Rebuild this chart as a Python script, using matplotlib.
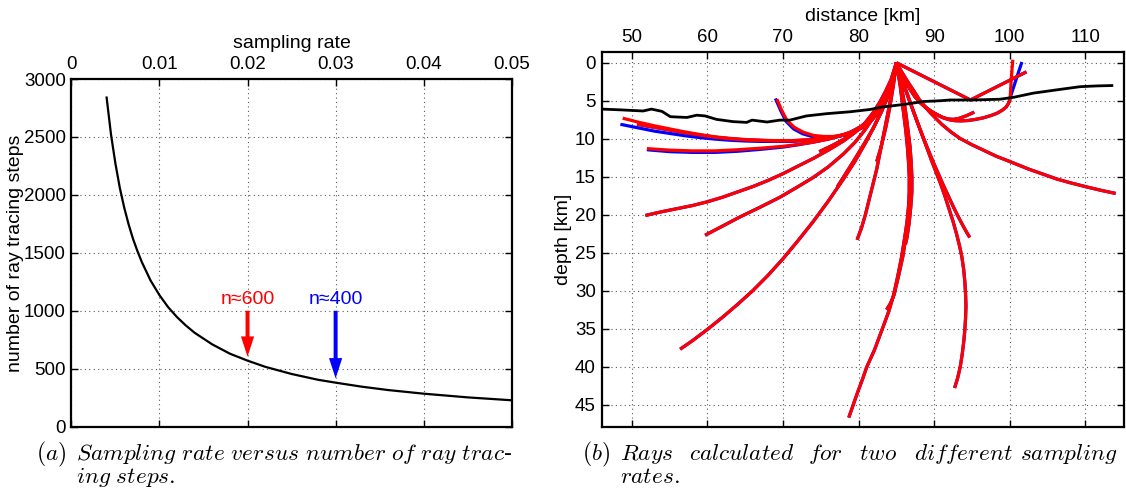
import matplotlib
matplotlib.use('Agg')
import matplotlib.pyplot as plt

plt.rcParams['font.family'] = ['Liberation Sans', 'DejaVu Sans']
plt.rcParams['mathtext.fontset'] = 'cm'

# ---------------- (a) sampling rate vs. number of steps
rate = [0.004, 0.0045, 0.005, 0.0055, 0.006, 0.0065, 0.007, 0.0075, 0.008, 0.009,
        0.010, 0.011, 0.012, 0.013, 0.014, 0.016, 0.018, 0.020, 0.022, 0.025,
        0.028, 0.030, 0.033, 0.036, 0.040, 0.045, 0.050]
steps = [2840, 2520, 2270, 2060, 1890, 1745, 1620, 1515, 1420, 1260,
         1135, 1030, 945, 873, 810, 710, 630, 570, 517, 455,
         405, 380, 345, 316, 285, 253, 228]
rate_ticks = [0, 0.01, 0.02, 0.03, 0.04, 0.05]
rate_labels = ['0', '0.01', '0.02', '0.03', '0.04', '0.05']
step_ticks = [0, 500, 1000, 1500, 2000, 2500, 3000]

mark_rate = [0.02, 0.03]
mark_tip = [604, 417]
mark_top = 1000
mark_text = ['n\u2248600', 'n\u2248400']
mark_color = ['red', 'blue']

# ---------------- (b) rays, (distance km, depth km)
iface_x = [46, 48.5, 51.5, 52.6, 54, 55.1, 57.3, 58.6, 59.7, 61.2, 63.4, 65.2, 65.9,
           67.9, 69.6, 70.9, 73.1, 75.8, 78.9, 81.5, 83.3, 85.9, 88.6, 90.8, 92.1,
           95.2, 98.7, 100.5, 103.1, 106.7, 109.3, 111.5, 113.5]
iface_z = [6.1, 6.2, 6.35, 6.1, 6.4, 7.1, 7.2, 6.9, 7.0, 7.45, 7.75, 7.85, 7.55,
           7.8, 7.55, 7.55, 7.0, 6.7, 6.45, 6.15, 5.8, 5.5, 5.1, 5.0, 4.9,
           4.9, 4.8, 4.55, 4.0, 3.5, 3.15, 3.05, 3.0]

ray_refl = [(85, 0), (94.8, 4.9), (102.2, 1.2)]
ray_up_red = [(85, 0), (85.6, 1.2), (86.3, 2.5), (86.9, 3.5), (87.5, 4.5), (88.2, 5.3), (89, 5.95),
              (89.7, 6.45), (90.5, 6.9), (91.2, 7.25), (92, 7.5), (92.7, 7.62), (93.5, 7.65),
              (94.5, 7.6), (95.5, 7.45), (96.5, 7.25), (97.5, 6.95), (98.3, 6.65), (99, 6.25),
              (99.5, 5.85), (99.8, 5.4), (100.0, 4.9), (100.05, 4.6), (100.2, 2.0), (100.4, -0.4)]
ray_up_blue = ray_up_red[:-2] + [(100.8, 2.3), (101.6, -0.1)]
ray_short = [(85, 0), (85.6, 1.2), (86.2, 2.5), (86.8, 3.5), (87.4, 4.4), (88.1, 5.2), (88.8, 5.85),
             (89.5, 6.35), (90.3, 6.8), (91.0, 7.15), (91.8, 7.4), (92.5, 7.45), (93.2, 7.35),
             (94.2, 7.0), (95.3, 6.5)]
ray_east = [(85, 0), (85.7, 1.2), (86.5, 2.5), (87.3, 3.7), (88, 4.8), (88.8, 5.8), (89.5, 6.6),
            (90.3, 7.4), (91, 8.1), (92.2, 9.1), (93.4, 9.95), (95, 10.8), (96.5, 11.5),
            (98.2, 12.3), (100, 13.0), (102.5, 14.0), (104.5, 14.7), (106.2, 15.3),
            (108.2, 15.85), (110.2, 16.35), (112.1, 16.8), (114, 17.2)]
ray_e = [(85, 0), (85.5, 1.5), (86.05, 3.1), (86.6, 4.65), (87.2, 6.3), (87.8, 7.9), (88.45, 9.6),
         (89.1, 11.2), (89.8, 12.9), (90.5, 14.5), (91.2, 16.1), (91.9, 17.6), (92.6, 19.1),
         (93.3, 20.5), (94.0, 21.8), (94.7, 23.0)]
ray_f = [(85, 0), (85.45, 1.3), (85.9, 2.6), (86.4, 4.0), (86.9, 5.4), (87.45, 6.9), (88.0, 8.4),
         (88.55, 9.9), (89.15, 11.5), (89.7, 13.0), (90.25, 14.4), (90.8, 15.8), (91.4, 17.5),
         (91.95, 19.2), (92.5, 20.9), (92.95, 22.5), (93.35, 24.1), (93.65, 25.5), (93.9, 27.2),
         (94.05, 28.8), (94.15, 30.4), (94.2, 32.0), (94.15, 33.6), (94.05, 35.2), (93.9, 36.8),
         (93.7, 38.4), (93.45, 40.0), (93.1, 41.5), (92.7, 42.8)]
ray_g1 = [(85, 0), (85.35, 1.5), (85.65, 3), (86.0, 5), (86.3, 7), (86.55, 9), (86.8, 11),
          (86.95, 13), (87.05, 15), (87.05, 17), (86.9, 19), (86.7, 21), (86.4, 23), (86.2, 23.9)]
ray_g2 = [(85, 0), (85.3, 1.5), (85.55, 3), (85.85, 5), (86.1, 7), (86.35, 9), (86.55, 11),
          (86.75, 13), (86.85, 15), (86.85, 17), (86.75, 19), (86.55, 21), (86.25, 23),
          (85.85, 25.5), (85.3, 28), (84.7, 30.5), (84.2, 31.7), (83.7, 32.5)]
ray_g3 = [(85, 0), (85.25, 1.5), (85.5, 3), (85.75, 5), (86.0, 7), (86.25, 9), (86.45, 11),
          (86.6, 13), (86.7, 15), (86.7, 17), (86.6, 19), (86.4, 21), (86.1, 23), (85.7, 25.5),
          (85.2, 28), (84.6, 30.7), (84.0, 32.7), (83.3, 34.6), (82.7, 36.2), (82.1, 37.8),
          (81.1, 40.0), (80.5, 41.7), (79.9, 43.3), (79.3, 45.0), (78.7, 46.7)]
ray_h = [(85, 0), (84.7, 2), (84.35, 4), (84.0, 6), (83.6, 8), (83.2, 10), (82.8, 12), (82.4, 14),
         (81.9, 16), (81.4, 18), (80.9, 20), (80.4, 21.7), (79.8, 23.3)]
ray_i = [(85, 0), (84.6, 3), (84.1, 6), (83.6, 8.5), (83.0, 11), (82.4, 13.0)]
ray_k = [(85, 0), (84.6, 2.0), (84, 3.9), (83, 6.4), (82, 8.5), (81, 10.4), (79.5, 13.0),
         (78, 15.3), (76, 18.2), (74, 20.9), (72, 23.4), (70, 25.8), (68, 28.0), (66, 30.0),
         (64, 31.8), (62, 33.5), (60, 35.1), (58, 36.6), (56.4, 37.7)]
ray_j = [(85, 0), (84.7, 2), (84.1, 3.9), (83.1, 6.3), (82.0, 8.5), (80.9, 10.4), (79.3, 13.0),
         (78.1, 14.9), (77.2, 16.3)]
ray_l = [(85, 0), (84.3, 2.5), (83.6, 4.2), (82.8, 5.8), (81.9, 7.3), (80.8, 8.9), (79.5, 10.5),
         (78, 12.0), (76, 13.7), (74, 15.1), (72, 16.3), (69.6, 17.7), (67, 19.0), (64.3, 20.3),
         (62, 21.5), (59.7, 22.7)]
ray_m = [(85, 0), (84.3, 2.2), (83.6, 3.7), (82.8, 5.2), (81.9, 6.6), (80.8, 8.0), (79.5, 9.2),
         (78, 10.3), (76, 11.5), (74, 12.6), (72, 13.6), (70, 14.6), (68, 15.5), (66, 16.3),
         (64, 17.0), (62, 17.7), (60, 18.3), (58, 18.8), (56, 19.2), (54, 19.6), (51.8, 20.1)]
fan_top = [(85, 0), (84.4, 2.6), (83.9, 3.9), (83.3, 5.2), (82.6, 6.4), (81.8, 7.4),
           (80.9, 8.2), (79.8, 8.85)]
ray_n1_red = fan_top + [(78.5, 9.35), (77, 9.7), (75, 9.95), (73, 10.15), (71, 10.25), (69, 10.25),
                        (67, 10.2), (65, 10.1), (63, 9.95), (61, 9.75), (59, 9.45), (57, 9.1),
                        (55, 8.7), (53, 8.3), (51, 7.85), (48.8, 7.3)]
ray_n1_blue = fan_top + [(78.5, 9.4), (77, 9.75), (75, 10.05), (73, 10.25), (71, 10.35), (69, 10.35),
                         (67, 10.35), (65, 10.3), (63, 10.2), (61, 10.05), (59, 9.85), (57, 9.6),
                         (55, 9.3), (53, 9.0), (51, 8.6), (48.5, 8.1)]
ray_n2 = fan_top + [(78.5, 9.38), (77, 9.72), (75, 10.0), (73, 10.2), (71, 10.27), (69, 10.28),
                    (67, 10.22), (65, 10.15), (63, 10.0), (61, 9.8), (59, 9.5), (57, 9.2),
                    (55, 8.85), (53, 8.5), (50.7, 8.1)]
ray_q_red = [(69.2, 4.8), (69.8, 6.2), (70.5, 7.55), (71.5, 8.5), (72.7, 9.15), (74, 9.55),
             (75.3, 9.7), (76.6, 9.7), (78, 9.5), (79.3, 9.1), (80.6, 8.5), (81.6, 7.7),
             (82.4, 6.8), (83.1, 5.7), (83.7, 4.5), (84.3, 2.8), (85, 0)]
ray_q_blue = [(69.0, 4.7), (69.7, 6.3), (70.4, 7.7), (71.4, 8.7), (72.6, 9.35), (74, 9.75),
              (75.3, 9.85), (76.6, 9.8), (78, 9.55)] + ray_q_red[9:]
ray_o_red = [(85, 0), (84.4, 2.6), (83.9, 3.9), (83.2, 5.2), (82.4, 6.4), (81.4, 7.5), (80.3, 8.4),
             (79, 9.1), (77.5, 9.65), (76, 10.05), (74, 10.45), (72, 10.75), (70, 11.0),
             (67, 11.25), (64, 11.45), (61, 11.6), (58, 11.6), (55, 11.5), (52, 11.3)]
ray_o_blue = ray_o_red[:11] + [(72, 10.8), (70, 11.1), (67, 11.4), (64, 11.65), (61, 11.8),
                               (58, 11.8), (55, 11.7), (52, 11.45)]
ray_p = [(85, 0), (84.4, 2.5), (83.8, 3.8), (83.1, 5.0), (82.3, 6.2), (81.4, 7.4), (80.4, 8.4),
         (79.3, 9.3), (78, 10.1), (76.5, 10.9), (74.8, 11.7)]

dist_ticks = [50, 60, 70, 80, 90, 100, 110]
depth_ticks = [0, 5, 10, 15, 20, 25, 30, 35, 40, 45]

blue_rays = [ray_refl, ray_up_blue, ray_short, ray_east, ray_e, ray_f, ray_g1, ray_g2, ray_g3,
             ray_h, ray_i, ray_k, ray_j, ray_l, ray_m, ray_n1_blue, ray_n2, ray_q_blue,
             ray_o_blue, ray_p]
red_rays = [ray_refl, ray_up_red, ray_short, ray_east, ray_e, ray_f, ray_g1, ray_g2, ray_g3,
            ray_h, ray_i, ray_k, ray_j, ray_l, ray_m, ray_n1_red, ray_n2, ray_q_red,
            ray_o_red, ray_p]


def matlab_axes(ax):
    ax.grid(True, linestyle=(0, (1, 3)), color='0.35', lw=0.8)
    ax.set_axisbelow(True)
    ax.tick_params(direction='in', top=True, bottom=True, left=True, right=True,
                   labeltop=True, labelbottom=False, length=5, width=1, pad=4, labelsize=13.5)
    for s in ax.spines.values():
        s.set_linewidth(1.6)
    ax.xaxis.set_label_position('top')


fig = plt.figure(figsize=(11.26, 4.88), dpi=100)

# (a)
ax1 = fig.add_axes([0.0634, 0.1256, 0.3911, 0.7125])
ax1.plot(rate, steps, color='black', lw=1.6)
for r, tip, txt, c in zip(mark_rate, mark_tip, mark_text, mark_color):
    ax1.arrow(r, mark_top, 0, tip - mark_top, width=0.00045, head_width=0.0015,
              head_length=175, length_includes_head=True, color=c, lw=0)
    ax1.text(r, 1095, txt, color=c, fontsize=14, ha='center', va='center')
ax1.set_xlim(0, 0.05)
ax1.set_ylim(0, 3000)
ax1.set_xticks(rate_ticks)
ax1.set_xticklabels(rate_labels)
ax1.set_yticks(step_ticks)
matlab_axes(ax1)
ax1.set_xlabel('sampling rate', fontsize=14)
ax1.set_ylabel('number of ray tracing steps', fontsize=14)
ax1.xaxis.set_label_coords(0.5, 1.103)
ax1.yaxis.set_label_coords(-0.128, 0.5)
ax1.xaxis.label.set_va('center')
ax1.yaxis.label.set_va('center')

# (b)
ax2 = fig.add_axes([0.5342, 0.1256, 0.4640, 0.7684])
for ray in blue_rays:
    ax2.plot([p[0] for p in ray], [p[1] for p in ray], color='blue', lw=2.3,
             solid_capstyle='butt', solid_joinstyle='round')
for ray in red_rays:
    ax2.plot([p[0] for p in ray], [p[1] for p in ray], color='red', lw=2.3,
             solid_capstyle='butt', solid_joinstyle='round')
ax2.plot(iface_x, iface_z, color='black', lw=2.0)
ax2.set_xlim(46, 115.1)
ax2.set_ylim(47.9, -1.45)
ax2.set_xticks(dist_ticks)
ax2.set_yticks(depth_ticks)
matlab_axes(ax2)
ax2.set_xlabel('distance [km]', fontsize=14)
ax2.set_ylabel('depth [km]', fontsize=14)
ax2.xaxis.set_label_coords(0.5, 1.093)
ax2.yaxis.set_label_coords(-0.0725, 0.5)
ax2.xaxis.label.set_va('center')
ax2.yaxis.label.set_va('center')

# captions; (b) line 1 is justified in the original, so its words are placed one by one
W, H = 1126.0, 488.0
cap = [
    (35.7, 460, ['(a)']), (76, 460, ['Sampling', 'rate', 'versus', 'number', 'of', 'ray', 'trac-']),
    (76, 483, ['ing', 'steps.']),
    (581.6, 460, ['(b)']), (619.6, 460, ['Rays']), (689, 460, ['calculated']), (808, 460, ['for']),
    (859, 460, ['two']), (914, 460, ['different']), (1020, 460, ['sampling']),
    (619.6, 483, ['rates.']),
]
for x, y, words in cap:
    body = r'\ '.join(words)
    if body.endswith('-'):
        s = r'$\mathit{' + body[:-1] + '}$-'
    else:
        s = r'$\mathit{' + body + '}$'
    fig.text(x / W, 1 - y / H, s, fontsize=16.8, ha='left', va='baseline',
             family='DejaVu Serif')

fig.savefig('out.png', dpi=100)
